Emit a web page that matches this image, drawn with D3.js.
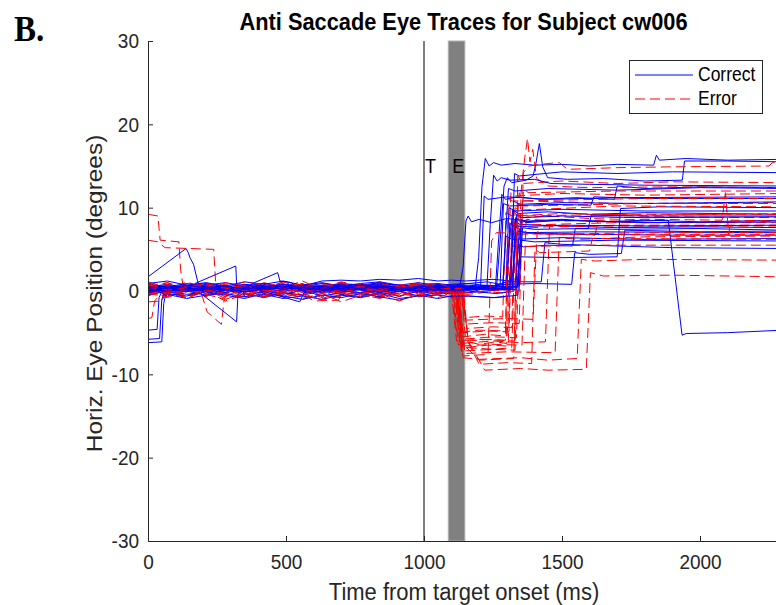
<!DOCTYPE html>
<html><head><meta charset="utf-8">
<script src="https://cdn.jsdelivr.net/npm/d3@7"></script>
<style>body{margin:0;background:#fff;overflow:hidden} svg{display:block;font-family:Arial,"Liberation Sans",sans-serif}</style>
</head><body><svg id="c" width="776" height="605"></svg>
<script>
// ---------- data ----------
const xTicks=[0,500,1000,1500,2000];
const yTicks=[-30,-20,-10,0,10,20,30];
const xDomain=[0,2300];
const yDomain=[-30,30];
const targetOnset=1000;
const eventWindow=[1088,1148];
const markerLabels=["T","E"];
const seriesNames=["Correct","Error"];
const titleText="Anti Saccade Eye Traces for Subject cw006";
const xLabel="Time from target onset (ms)";
const yLabel="Horiz. Eye Position (degrees)";
const panelLabel="B.";

// sample times for the fixation period (ms)
const preTimes=[0,70,140,210,280,350,420,490,560,630,700,770,840,910,980,1050,1100];

// correct trials: fixation period values (deg)
const correctPre=[
[.3,.5,.2,.6,.4,.1,.5,.3,.6,.2,.4,.7,.3,.5,.2,.4,.3],
[-.2,.1,.4,0,.3,-.1,.2,.5,.1,.3,0,.4,.2,-.1,.3,.1,.2],
[.6,.3,.8,.5,.2,.6,.4,.7,.3,.5,.8,.4,.6,.3,.7,.5,.6],
[.1,-.3,.2,-.1,.3,0,-.2,.2,.4,.1,-.1,.3,0,.2,-.2,.1,0],
[.5,.8,.4,.7,1.0,.6,.9,.5,.8,.6,.9,.7,1.0,.6,.8,.9,.7],
[-.8,-.4,-.9,-.5,-.3,-.7,-.4,-.9,-.6,-1.0,-.5,-.8,-.3,-.9,-.6,-.5,-.7],
[.2,0,.3,.6,.4,.2,.5,.8,.6,1.2,1.3,1.2,1.4,1.3,1.5,1.2,1.3],
[.4,.7,.3,.5,.2,.4,.6,.3,.5,.7,.4,.2,.5,.3,.6,.4,.5],
[0,.3,-.1,.2,.5,.1,.3,0,.2,-.2,.1,.3,-.1,.2,0,.3,.1],
[.8,.5,.9,.6,.3,.7,.4,.8,.5,.9,.6,.8,.4,.7,.5,.8,.6],
[-.2,-.6,0,-.5,.1,-.3,-.8,-.2,-.5,0,-.4,-.7,-.2,-.6,0,-.4,-.2],
[.3,.1,.4,.2,.5,.3,.1,.4,.2,.5,.3,.6,.4,.2,.5,.3,.4],
[.7,.4,.6,.9,.5,.8,.6,.3,.7,.5,.8,.6,.9,.7,.4,.6,.5],
[-.5,0,-.4,.1,-.2,-.7,0,-.4,.1,-.6,-.2,.2,-.5,0,-.6,-.2,0],
[.2,.4,.1,.3,.6,.2,.4,.7,.3,.5,.2,.4,.6,.3,.5,.2,.4],
[.5,.2,.6,.3,.1,.4,.7,.2,.5,.3,.6,.4,.2,.5,.3,.6,.4],
[0,.2,.5,.1,.3,-.1,.2,.4,0,.3,.1,.5,.2,0,.3,.1,.2],
[.4,.6,.3,.8,.5,.3,.6,.4,.7,.5,.3,.6,.8,.4,.6,.5,.3],
[-.7,-.3,-.6,-.1,-.5,-.9,-.3,-.6,-1.0,-.5,-.8,-.3,-.7,-1.1,-.5,-.9,-.6],
[.1,.4,.2,0,.3,.5,.2,.4,.1,.3,.6,.2,.4,.1,.3,.5,.2],
[.9,1.2,.7,1.0,.6,1.1,.8,1.2,.7,1.0,.6,.9,1.1,.7,1.0,.6,.8],
[.2,-.1,.3,.1,-.2,.2,0,.3,-.1,.2,0,-.2,.1,.3,0,.2,.1],
[.3,.6,.4,.1,.5,.3,.6,.2,.4,.1,.5,.3,.7,.4,.2,.5,.3],
[-.2,.2,-.1,.3,0,.4,.1,-.1,.2,0,.3,.1,-.2,.2,.4,0,.2],
[.5,.3,.7,.4,.6,.2,.5,.8,.4,.6,.3,.7,.5,.2,.6,.4,.5],
[0,.4,.1,.5,.2,-.1,.3,.6,.2,.4,.1,.3,.5,.2,0,.3,.1]
];
// correct trials: artefacts during fixation [ms, deg]
const correctArtifacts={
 2:[[0,1.7],[138,5.1],[146,4.6],[152,4.0],[165,3.2],[181,1.0],[200,0.6]],
 5:[[0,-6.2],[50,-6.1],[57,-1.5],[64,-0.4]],
 10:[[0,-4.7],[33,-4.6],[40,-0.8],[48,-0.2]],
 18:[[0,-5.8],[42,-5.7],[50,-1.0],[58,-0.3]],
 8:[[170,0.9],[318,3.0],[322,0.2],[340,0.3]],
 13:[[188,-0.2],[321,-3.7],[326,-0.4],[345,0.0]],
 21:[[360,0.5],[385,1.0],[470,2.2],[478,1.2],[520,1.0]],
 23:[[380,0.3],[550,-1.3],[565,-0.2]]
};
// correct trials: response period [ms, deg]
const correctPost=[
[[1150,0.5],[1185,0.3],[1198,4],[1210,12.5],[1222,15.9],[1236,15.0],[1252,15.4],[1280,15.1],[1330,15.3],[1400,15.1],[1500,15.2],[1600,15.0],[1700,15.2],[1832,15.1],[1842,16.3],[1853,15.7],[1950,15.9],[2100,15.7],[2300,15.8]],
[[1150,0.2],[1210,0.5],[1262,0.1],[1276,6],[1290,12.6],[1302,13.6],[1318,13.0],[1370,13.3],[1395,13.8],[1405,15.2],[1418,17.7],[1430,14.9],[1448,13.6],[1520,13.4],[1650,13.5],[1800,13.2],[1936,13.3],[1944,15.6],[2100,15.6],[2300,15.5]],
[[1130,0.6],[1142,3],[1152,8.4],[1160,9.0],[1172,8.3],[1200,8.6],[1245,8.2],[1300,8.7],[1380,8.4],[1500,8.6],[1650,8.3],[1800,8.5],[2000,8.3],[2300,8.5]],
[[1160,-0.2],[1220,0.3],[1258,0],[1270,6],[1282,11.6],[1295,11.0],[1340,11.3],[1420,11.0],[1550,11.2],[1690,11.0],[1700,12.6],[1800,12.3],[2000,12.5],[2300,12.4]],
[[1160,0.9],[1240,0.6],[1298,0.8],[1310,6],[1322,9.8],[1340,9.3],[1450,9.5],[1600,9.2],[1800,9.4],[2300,9.2]],
[[1160,-0.6],[1250,-0.8],[1305,-0.6],[1318,5],[1330,8.6],[1345,8.0],[1500,7.8],[1700,7.6],[2000,7.7],[2300,7.6]],
[[1150,1.2],[1250,1.4],[1318,1.2],[1330,5],[1340,7.2],[1400,6.9],[1600,6.8],[1900,6.7],[2300,6.7]],
[[1160,0.4],[1250,0.6],[1330,0.5],[1342,5.6],[1360,5.3],[1450,5.5],[1538,5.4],[1548,7.5],[1700,7.4],[2000,7.5],[2300,7.3]],
[[1160,0.3],[1240,0.6],[1300,0.8],[1400,0.9],[1535,0.8],[1546,4.6],[1600,4.4],[1715,4.5],[1728,7.3],[2000,7.1],[2300,7.2]],
[[1160,0.7],[1240,0.5],[1300,1.1],[1425,1.1],[1438,5.8],[1500,5.6],[1700,5.4],[1900,5.2],[2300,5.1]],
[[1160,-0.2],[1260,0.1],[1335,0.2],[1348,4.1],[1500,4.0],[1700,4.1],[1712,9.9],[1850,10.1],[2300,10.0]],
[[1160,0.3],[1240,0.5],[1285,0.2],[1296,7],[1306,12.3],[1330,12.0],[1450,12.3],[1700,12.1],[2000,12.4],[2300,12.3]],
[[1160,0.6],[1228,0.4],[1240,8],[1252,13.9],[1265,13.2],[1280,13.6],[1310,13.3],[1400,13.4],[1460,12.9],[1600,12.8],[1800,12.7],[2300,12.6]],
[[1160,0],[1260,-0.3],[1312,-0.1],[1325,10.8],[1345,10.4],[1500,10.6],[1800,10.5],[2300,10.7]],
[[1160,0.4],[1250,0.2],[1322,0.5],[1335,9.2],[1355,8.8],[1500,9.0],[1800,8.8],[2300,8.9]],
[[1160,0.5],[1240,0.3],[1300,0.4],[1312,8.1],[1330,7.7],[1500,7.9],[1800,7.8],[2300,7.9]],
[[1160,0.2],[1250,0.4],[1332,0.1],[1345,7.4],[1360,7.0],[1600,7.1],[2300,7.0]],
[[1160,0.5],[1230,0.7],[1285,0.5],[1297,6.6],[1320,6.2],[1500,6.4],[1800,6.2],[2300,6.3]],
[[1160,-0.6],[1260,-0.8],[1340,-0.5],[1352,8.6],[1370,8.2],[1500,8.5],[1700,8.3],[1885,8.5],[1935,-5.3],[1950,-5.1],[2100,-5.0],[2300,-4.7]],
[[1160,0.3],[1240,0.1],[1296,0.3],[1308,10.0],[1330,9.6],[1500,9.8],[1800,9.6],[2300,9.6]],
[[1160,0.9],[1230,1.1],[1276,0.8],[1288,10.5],[1310,10.2],[1450,10.4],[1605,10.3],[1615,11.3],[1800,11.1],[2300,11.1]],
[[1160,0.2],[1205,0.4],[1218,11.4],[1232,11.0],[1300,11.3],[1450,11.0],[1700,11.2],[2300,11.3]],
[[1160,0.4],[1260,0.2],[1338,0.4],[1350,6.1],[1400,5.9],[1700,6.1],[2300,6.0]],
[[1160,0.1],[1250,0.3],[1320,0.2],[1332,8.8],[1350,8.3],[1500,8.5],[1800,8.2],[2300,8.3]],
[[1160,0.5],[1260,0.3],[1345,0.6],[1357,7.6],[1400,7.4],[1595,7.5],[1606,9.1],[1800,9.0],[2300,9.0]],
[[1160,0.1],[1250,0.4],[1315,0.2],[1328,14.1],[1345,13.8],[1500,14.3],[1700,14.1],[1900,14.3],[2300,14.2]]
];

// error trials: fixation period values (deg)
const errorPre=[
[.3,-.6,.7,-.3,.9,-.5,.6,-.7,.4,-.2,.8,-.6,.3,-.4,.9,-.3,.1],
[-.7,.5,-.3,.9,-.6,.3,-.8,.6,-.2,.8,-.5,.4,-.7,.3,-.3,.6,0],
[.9,0,1.1,.3,.7,-.2,1.0,.4,1.2,.1,.9,.3,1.1,0,.7,.4,.5],
[-1.0,-.3,-.8,0,-1.2,-.4,-.7,.1,-.9,-.3,-1.3,-.5,-.8,0,-.7,-.3,-.3],
[.4,1.0,.1,.7,-.2,.8,.3,1.1,.4,.6,0,.9,.3,.7,.1,.8,.3],
[-.2,.7,-.6,.4,-.3,.8,-.7,.3,-.5,.6,-.2,.7,-.6,.4,-.3,.7,.2],
[.6,-.3,.3,-.7,.7,-.2,.4,-.6,.2,-.8,.6,-.3,.4,-.7,.3,-.2,0],
[1.1,.4,.8,.1,1.0,.5,.7,.2,.9,.4,1.1,.6,.8,.3,1.0,.5,.5],
[-.5,.1,-.8,-.2,-.6,.3,-.7,0,-1.0,-.3,-.6,.1,-.8,-.2,-.5,.2,-.2],
[.2,.8,0,.6,-.3,.4,.7,-.2,.6,.3,-.4,.7,.1,.4,-.3,.6,.1],
[-.8,-.2,-.6,.2,-.9,-.4,0,-.7,-.3,-1.1,-.6,-.1,-.8,-.3,-.7,0,-.3],
[.7,.1,.9,.4,.6,0,.8,.3,.7,-.2,.4,.8,.3,.6,0,.7,.2],
[0,-.7,.4,-.4,.3,-.8,.2,-.3,.6,-.6,.3,-.2,.4,-.7,.2,-.4,0],
[.9,.3,.6,1.0,.2,.7,.4,1.1,.3,.8,.5,.2,.9,.4,.7,.3,.4],
[-.3,.6,-.2,.3,-.7,.4,0,.7,-.4,.2,-.3,.6,-.6,.3,0,.4,.1],
[.4,-.2,.8,.3,-.4,.6,.1,-.3,.7,0,.4,-.6,.3,.7,-.2,.4,.2],
[-.6,.3,-.9,0,-.4,-.8,.2,-.6,-.2,-.7,.3,-.4,-.9,-.1,-.6,.1,-.2],
[.3,.7,.4,-.3,.8,.2,.6,.9,0,.4,.7,.3,-.2,.6,.8,.1,.3],
[.7,-.4,.3,.6,-.2,.8,-.6,.4,.1,.7,-.3,.6,0,.8,-.4,.3,.1],
[-.2,-.8,.1,-.4,-1.0,-.3,-.7,0,-.6,-.9,-.2,-.7,-.3,-1.2,-.4,-.8,-.2],
[.6,1.0,.3,.8,.4,1.1,.7,.2,.9,.5,1.0,.3,.8,.4,.7,.9,.4],
[.1,-.3,.6,0,.4,-.6,.3,.7,-.2,.4,0,.6,-.4,.3,.7,-.2,.1],
[-.4,.4,-.7,.1,-.3,.6,-.8,-.1,.3,-.6,.4,-.3,.1,-.7,.3,-.4,0],
[.8,.1,.4,.9,.3,.7,-.2,.6,.8,.3,1.0,.4,.1,.7,.9,.3,.3]
];
const errorArtifacts={
 0:[[0,9.2],[36,9.0],[44,6.1],[112,5.9],[118,2.6],[128,0.4],[140,0.1]],
 1:[[0,6.1],[35,5.9],[62,5.2],[150,5.1],[238,5.0],[245,1.0],[260,0.2]],
 3:[[0,-3.3],[14,-3.2],[24,-1.2],[40,-0.6]],
 8:[[190,0.1],[214,-2.5],[266,-4.0],[276,-1.0],[290,-0.2]],
 10:[[0,-1.3],[50,-1.2],[62,-0.4]],
 16:[[560,-0.3],[600,-1.2],[690,-1.1],[705,-0.2]]
};
const errorPost=[
[[1105,0.2],[1125,-6.5],[1145,-6.0],[1200,-6.4],[1260,-6.1],[1300,-6.3],[1312,2],[1325,9.6],[1340,8.8],[1450,9.0],[1600,8.7],[1800,8.9],[2300,8.8]],
[[1115,0],[1135,-7.2],[1160,-6.8],[1250,-7.0],[1318,-6.8],[1330,5],[1345,11.8],[1360,10.8],[1500,10.7],[1700,10.5],[2300,10.6]],
[[1120,0.3],[1140,-5.5],[1220,-5.2],[1298,-5.4],[1310,7.6],[1330,6.8],[1500,6.9],[1620,6.7],[1630,8.4],[1800,8.2],[2300,8.3]],
[[1100,-0.3],[1118,-6.0],[1200,-5.8],[1328,-6.0],[1340,13.8],[1358,12.9],[1500,13.2],[1700,12.9],[1900,13.1],[2300,13.0]],
[[1135,0.3],[1150,-3.2],[1220,-3.0],[1285,-3.1],[1297,9.4],[1320,9.0],[1500,9.3],[1800,9.1],[2300,9.3]],
[[1120,0.2],[1140,-8.0],[1200,-8.2],[1350,-8.0],[1450,-8.3],[1555,-8.1],[1570,3.8],[1620,3.6],[1800,3.8],[2300,3.7]],
[[1140,0],[1160,-6],[1220,-9.5],[1350,-9.3],[1450,-9.5],[1588,-9.4],[1603,2.2],[1650,1.8],[1900,1.9],[2300,1.7]],
[[1110,0.4],[1130,-6.3],[1250,-6.0],[1350,-6.2],[1440,-6.1],[1455,8.0],[1500,7.7],[1700,7.9],[2300,7.9]],
[[1128,-0.2],[1148,-7.5],[1300,-7.3],[1475,-7.4],[1490,6.4],[1560,6.2],[1800,6.5],[2300,6.6]],
[[1115,0.1],[1135,-5.8],[1250,-5.5],[1335,-5.6],[1352,12],[1365,16],[1375,18.3],[1384,15.5],[1394,17.0],[1408,13.5],[1450,12.6],[1600,12.4],[1900,12.5],[2300,12.4]],
[[1160,-0.4],[1240,-0.1],[1300,-0.3],[1315,11.8],[1330,11.4],[1500,11.7],[1800,11.5],[2300,11.7]],
[[1110,0.2],[1130,-4.0],[1250,-3.8],[1345,-3.9],[1360,14.2],[1380,15.0],[1450,15.3],[1490,15.4],[1520,14.6],[1700,14.8],[1900,14.9],[2250,15.0],[2262,15.4],[2300,15.4]],
[[1125,0],[1145,-6.8],[1230,-6.5],[1305,-6.6],[1318,7.9],[1340,7.5],[1500,7.8],[2300,7.8]],
[[1100,0.4],[1118,-5.0],[1200,-4.7],[1295,-4.8],[1305,5.6],[1330,5.3],[1600,5.5],[2300,5.5]],
[[1122,0.1],[1142,-7.2],[1250,-7.0],[1330,-7.1],[1342,9.3],[1360,9.0],[1700,9.2],[2300,9.2]],
[[1138,0.2],[1155,-4.5],[1250,-4.3],[1318,-4.4],[1330,10.0],[1345,9.7],[1700,10.2],[2300,10.1]],
[[1160,-0.2],[1250,0.1],[1345,-0.1],[1360,12.1],[1380,11.8],[1700,12.0],[2300,12.0]],
[[1118,0.3],[1138,-6.6],[1250,-6.4],[1355,-6.5],[1370,8.6],[1500,8.4],[1800,8.6],[2080,8.5],[2092,11.8],[2098,9.4],[2104,6.8],[2112,8.5],[2300,8.4]],
[[1130,0.1],[1150,-3.5],[1300,-3.3],[1395,-3.4],[1410,7.1],[1450,6.8],[1800,7.0],[2300,7.0]],
[[1110,-0.2],[1130,-6],[1200,-8.3],[1325,-8.1],[1340,10.6],[1360,10.2],[1800,10.5],[2300,10.5]],
[[1142,0.4],[1160,-6.0],[1230,-5.8],[1295,-5.9],[1305,11.0],[1320,10.8],[1800,11.1],[2300,11.1]],
[[1118,0.1],[1140,-5.0],[1230,-4.8],[1308,-4.9],[1320,8.2],[1340,7.9],[1700,8.2],[2300,8.2]],
[[1120,0],[1140,-7.8],[1232,-7.6],[1245,6.0],[1262,7.0],[1500,6.8],[2300,6.8]],
[[1135,0.3],[1150,-5.5],[1200,-8.8],[1300,-8.6],[1390,-8.7],[1402,5.0],[1420,4.6],[1600,4.8],[1610,6.3],[2300,6.2]]
];

// ---------- build traces ----------
function buildTrace(pre, art, post){
  let pts = preTimes.map((t,i)=>[t,pre[i]]);
  if(art){
    const a0=art[0][0], a1=art[art.length-1][0];
    pts = pts.filter(p=>p[0]<a0||p[0]>a1).concat(art);
  }
  const p0=post[0][0];
  pts = pts.filter(p=>p[0]<p0).concat(post);
  return pts.sort((a,b)=>a[0]-b[0]);
}
const correctTraces=correctPre.map((pre,i)=>buildTrace(pre,correctArtifacts[i],correctPost[i]));
const errorTraces=errorPre.map((pre,i)=>buildTrace(pre,errorArtifacts[i],errorPost[i]));

// ---------- layout ----------
const svg=d3.select("#c");
const plotLeft=148, plotTop=41, plotBottom=541;
const stretchY=1.11; // the figure is taller than wide
const x=d3.scaleLinear().domain(xDomain).range([plotLeft, plotLeft+2300*0.276]);
const y=d3.scaleLinear().domain(yDomain).range([plotBottom, plotTop]);
const axisColor="#262626";
const FONT="Arial, 'Liberation Sans', sans-serif";

// event window bar
svg.append("rect")
  .attr("x",x(eventWindow[0])).attr("y",plotTop)
  .attr("width",x(eventWindow[1])-x(eventWindow[0])).attr("height",plotBottom-plotTop)
  .attr("fill","#808080").attr("stroke","#b0b0b0").attr("stroke-width",1);

// target onset line
svg.append("line")
  .attr("x1",x(targetOnset)).attr("x2",x(targetOnset))
  .attr("y1",plotTop).attr("y2",plotBottom).attr("stroke","#000").attr("stroke-width",1);

// traces
svg.append("clipPath").attr("id","clip").append("rect")
  .attr("x",plotLeft).attr("y",plotTop).attr("width",800).attr("height",plotBottom-plotTop);
const g=svg.append("g").attr("clip-path","url(#clip)");
const line=d3.line().x(d=>x(d[0])).y(d=>y(d[1]));
const n=Math.max(correctTraces.length,errorTraces.length);
for(let i=0;i<n;i++){
  if(correctTraces[i]) g.append("path").attr("d",line(correctTraces[i]))
    .attr("fill","none").attr("stroke","#0000ff").attr("stroke-width",1);
  if(errorTraces[i]) g.append("path").attr("d",line(errorTraces[i]))
    .attr("fill","none").attr("stroke","#ff0000").attr("stroke-width",1)
    .attr("stroke-dasharray","10,5");
}

// helper: horizontal text stretched vertically around its baseline
function htext(xp, yp, str, size, opts={}){
  const t=svg.append("text").attr("transform",`translate(${xp},${yp}) scale(1,${stretchY})`)
    .attr("font-size",size).attr("font-family",opts.family||FONT)
    .attr("font-weight",opts.weight||"normal").attr("fill",opts.fill||"#000")
    .attr("text-anchor",opts.anchor||"start").text(str);
  return t;
}

// T / E labels
htext(x(targetOnset)+1, y(15)+7, markerLabels[0], 18);
htext(x(eventWindow[0])+4, y(15)+7, markerLabels[1], 18);

// axes
const fmt=d=>String(d);
const xAxis=d3.axisBottom(x).tickValues(xTicks).tickFormat(fmt).tickSize(-5).tickPadding(14).tickSizeOuter(0);
const yAxis=d3.axisLeft(y).tickValues(yTicks).tickFormat(fmt).tickSize(-5).tickPadding(9).tickSizeOuter(0);
const gx=svg.append("g").attr("transform",`translate(0,${plotBottom})`).call(xAxis);
const gy=svg.append("g").attr("transform",`translate(${plotLeft},0)`).call(yAxis);
[gx,gy].forEach(a=>{
  a.select(".domain").attr("stroke",axisColor).attr("stroke-width",1);
  a.selectAll(".tick line").attr("stroke",axisColor);
  a.selectAll(".tick text").attr("fill",axisColor).attr("font-size",19).attr("font-family",FONT)
   .each(function(){
     const b=this.getBBox(); const cy=b.y+b.height/2;
     d3.select(this).attr("transform",`translate(0,${cy}) scale(1,${stretchY}) translate(0,${-cy})`);
   });
});

// labels
htext(463.5, 30, titleText, 21.8, {weight:"bold", anchor:"middle"});
htext(464, 599.5, xLabel, 22, {anchor:"middle", fill:axisColor});
svg.append("text").attr("transform",`translate(102,293.5) scale(1,${stretchY}) rotate(-90)`)
  .attr("text-anchor","middle").attr("font-size",22).attr("font-family",FONT)
  .attr("fill",axisColor).text(yLabel);
htext(14, 41, panelLabel, 33, {family:"'Liberation Serif','Times New Roman',serif", weight:"bold"});

// legend
const lg=svg.append("g");
lg.append("rect").attr("x",629.5).attr("y",60.5).attr("width",133).attr("height",53)
  .attr("fill","#fff").attr("stroke",axisColor).attr("stroke-width",1);
const legendItems=[{name:seriesNames[0],color:"#0000ff",dash:null},{name:seriesNames[1],color:"#ff0000",dash:"10,5"}];
legendItems.forEach((d,i)=>{
  const yy=75+i*24;
  lg.append("line").attr("x1",635).attr("x2",693).attr("y1",yy).attr("y2",yy)
    .attr("stroke",d.color).attr("stroke-width",1).attr("stroke-dasharray",d.dash);
  htext(698, yy+6, d.name, 17.5);
});
</script></body></html>
